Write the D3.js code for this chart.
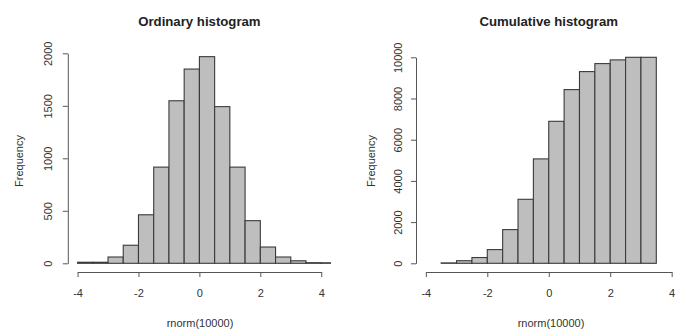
<!DOCTYPE html>
<html>
<head>
<meta charset="utf-8">
<script src="https://cdn.jsdelivr.net/npm/d3@7"></script>
<style>
  body { margin: 0; background: #fff; }
  text { font-family: "Liberation Sans", Arial, sans-serif; fill: #333; }
  .axis path, .axis line { stroke: #555; }
</style>
</head>
<body>
<svg id="chart" width="678" height="329"></svg>
<script>
// bin edges (left side of each bin), width 0.5
var breaksOrdinary = [-4, -3.5, -3, -2.5, -2, -1.5, -1, -0.5, 0, 0.5, 1, 1.5, 2, 2.5, 3, 3.5, 4];
var countsOrdinary = [10, 10, 60, 172, 462, 916, 1548, 1850, 1968, 1492, 916, 406, 155, 60, 24, 6, 5];

var breaksCumulative = [-3.5, -3, -2.5, -2, -1.5, -1, -0.5, 0, 0.5, 1, 1.5, 2, 2.5, 3];
var countsCumulative = [20, 125, 280, 665, 1636, 3107, 5068, 6893, 8432, 9306, 9694, 9874, 10000, 10000];

var xTicks = [-4, -2, 0, 2, 4];
var yTicksOrdinary = [0, 500, 1000, 1500, 2000];
var yTicksCumulative = [0, 2000, 4000, 6000, 8000, 10000];

var binWidth = 0.5;

var svg = d3.select("#chart");

function drawPanel(opt) {
  var g = svg.append("g");

  var x = d3.scaleLinear().domain([-4.32, 4.32]).range([opt.left, opt.right]);
  var y = d3.scaleLinear().domain([0, opt.yMax]).range([263.3, opt.yTopPx]);

  var clipId = "clip" + opt.id;
  svg.append("clipPath").attr("id", clipId)
    .append("rect")
    .attr("x", opt.left).attr("y", 40)
    .attr("width", opt.right - opt.left).attr("height", 232);

  var data = opt.breaks.map((b, i) => ({x0: b, x1: b + binWidth, n: opt.counts[i]}));

  g.append("g").attr("clip-path", "url(#" + clipId + ")")
    .selectAll("rect")
    .data(data)
    .enter().append("rect")
    .attr("x", d => x(d.x0))
    .attr("y", d => y(d.n))
    .attr("width", d => x(d.x1) - x(d.x0))
    .attr("height", d => y(0) - y(d.n))
    .attr("fill", "#bebebe")
    .attr("stroke", "#3a3a3a")
    .attr("stroke-width", 1.1);

  // x axis, drawn only between first and last tick like R does
  var xa = d3.scaleLinear().domain([-4, 4]).range([x(-4), x(4)]);
  g.append("g")
    .attr("class", "axis")
    .attr("transform", "translate(0,272)")
    .call(d3.axisBottom(xa).tickValues(xTicks).tickSize(5).tickSizeOuter(0).tickPadding(12)
      .tickFormat(d => d < 0 ? "-" + Math.abs(d) : d))
    .call(a => a.selectAll("text").style("font-size", "11px").style("fill", "#333"))
    .call(a => a.select(".domain").attr("stroke", "#555"));

  var yTicks = opt.yTicks;
  var ya = y.copy().domain([yTicks[0], yTicks[yTicks.length - 1]])
    .range([y(yTicks[0]), y(yTicks[yTicks.length - 1])]);
  var yAxis = g.append("g")
    .attr("class", "axis")
    .attr("transform", "translate(" + opt.left + ",0)")
    .call(d3.axisLeft(ya).tickValues(yTicks).tickSize(5).tickSizeOuter(0).tickFormat(d => d));
  yAxis.select(".domain").attr("stroke", "#555");
  yAxis.selectAll(".tick text")
    .attr("x", null).attr("dy", null)
    .attr("transform", "translate(" + (-opt.yLabelOff) + ",0) rotate(-90)")
    .attr("text-anchor", "middle")
    .attr("dominant-baseline", "central")
    .style("font-size", "11px").style("fill", "#333");

  var cx = (opt.left + opt.right) / 2;
  g.append("text")
    .attr("x", cx).attr("y", 26)
    .attr("text-anchor", "middle")
    .style("font-size", "13.2px").style("font-weight", "bold").style("fill", "#222")
    .text(opt.title);

  g.append("text")
    .attr("x", opt.xLabelX).attr("y", 322.5)
    .attr("text-anchor", "middle")
    .attr("dominant-baseline", "central")
    .style("font-size", "11px")
    .text("rnorm(10000)");

  g.append("text")
    .attr("transform", "translate(" + opt.yTitleX + ",161) rotate(-90)")
    .attr("text-anchor", "middle")
    .attr("dominant-baseline", "central")
    .style("font-size", "11px")
    .text("Frequency");
}

drawPanel({
  id: 1, left: 67.8, right: 331,
  yMax: 2000, yTopPx: 53.3, yTicks: yTicksOrdinary,
  breaks: breaksOrdinary, counts: countsOrdinary,
  title: "Ordinary histogram", yLabelOff: 20, yTitleX: 18.5, xLabelX: 200
});

drawPanel({
  id: 2, left: 416, right: 681.5,
  yMax: 10000, yTopPx: 57.3, yTicks: yTicksCumulative,
  breaks: breaksCumulative, counts: countsCumulative,
  title: "Cumulative histogram", yLabelOff: 18.5, yTitleX: 371, xLabelX: 551
});
</script>
</body>
</html>
